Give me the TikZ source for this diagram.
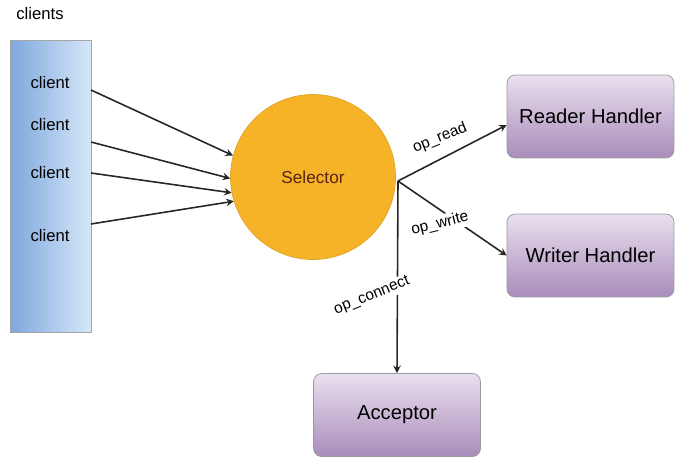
\documentclass[tikz,border=0pt]{standalone}
\usepackage{fontspec}
\setmainfont{Liberation Sans}
\definecolor{barleft}{HTML}{7FA7DD}
\definecolor{barright}{HTML}{D5E7F8}
\definecolor{boxtop}{HTML}{E9E0EF}
\definecolor{boxbottom}{HTML}{A98CBA}
\definecolor{selfill}{HTML}{F6B327}
\definecolor{selline}{HTML}{DDA026}
\definecolor{seltext}{HTML}{5A2418}
\begin{document}
\begin{tikzpicture}[x=0.02cm, y=-0.02cm]
    \tikzset{handler/.style={draw=gray!80, rounded corners=0.16cm, top color=boxtop, bottom color=boxbottom, minimum width=3.34cm, minimum height=1.66cm, font=\fontsize{11.5}{13}\selectfont},
             oplabel/.style={font=\fontsize{8.8}{10}\selectfont, inner sep=1pt},
             flow/.style={->, >=stealth, line width=0.9pt, draw=black!85}}
    \useasboundingbox (0,0) rectangle (686,460);
    \node[font=\fontsize{9.5}{11}\selectfont] (title) at (40,14) {clients};
    \node[draw=gray!70, left color=barleft, right color=barright, minimum width=1.62cm, minimum height=5.84cm] (bar) at (50.5,186) {};
    \node[font=\fontsize{9.5}{11}\selectfont] (client1) at (50,83) {client};
    \node[font=\fontsize{9.5}{11}\selectfont] (client2) at (50,125) {client};
    \node[font=\fontsize{9.5}{11}\selectfont] (client3) at (50,173) {client};
    \node[font=\fontsize{9.5}{11}\selectfont] (client4) at (50,236) {client};
    \node[draw=selline, fill=selfill, circle, minimum size=3.3cm, text=seltext, font=\fontsize{9.8}{11}\selectfont] (selector) at (313,177) {Selector};
    \node[handler] (reader) at (590.5,116.5) {Reader Handler};
    \node[handler] (writer) at (590.5,255.5) {Writer Handler};
    \node[handler] (acceptor) at (397,415) {Acceptor};
    \coordinate (out1) at (91,90);
    \coordinate (out2) at (91,142);
    \coordinate (out3) at (91,173);
    \coordinate (out4) at (91,224);
    \coordinate (hub) at (398,181);
    \draw[flow] (out1) -- (selector.165);
    \draw[flow] (out2) -- (selector.181);
    \draw[flow] (out3) -- (selector.191);
    \draw[flow] (out4) -- (selector.197);
    \draw[flow] (hub) -- (reader.west |- 0,125);
    \draw[flow] (hub) -- (writer.west);
    \draw[flow] (hub) -- (acceptor.north);
    \node[oplabel, rotate=22] (opread) at (440,138) {op\_read};
    \node[oplabel, rotate=14, fill=white] (opwrite) at (440,224) {op\_write};
    \node[oplabel, rotate=22, fill=white] (opconnect) at (372,296) {op\_connect};
\end{tikzpicture}
\end{document}
